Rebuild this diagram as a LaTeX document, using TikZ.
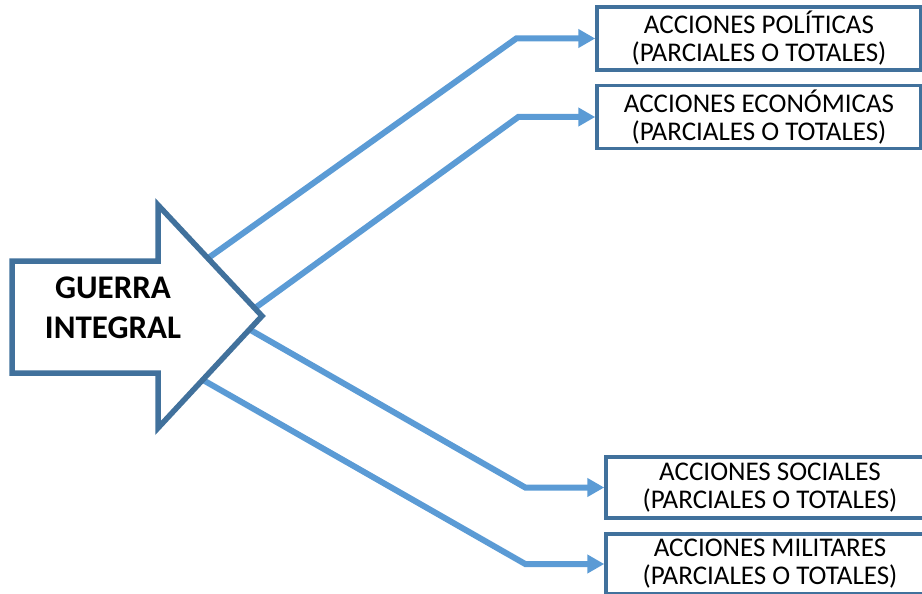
\documentclass[tikz,border=0pt]{standalone}
\usepackage{fontspec}
\setmainfont{Carlito}
\usetikzlibrary{arrows.meta,positioning,calc}
\definecolor{borde}{HTML}{41719C}
\definecolor{flecha}{HTML}{5B9BD5}

\begin{document}
\begin{tikzpicture}[x=1pt,y=-1pt,node distance=78.5pt,
    caja/.style={draw=borde, line width=3.5pt, fill=white, minimum width=324pt, minimum height=63pt, inner sep=0pt, align=center, font=\fontsize{27}{28}\selectfont},
    conn/.style={draw=flecha, line width=6pt, -{Triangle[length=17pt,width=18pt]}}]
    \useasboundingbox (0,0) rectangle (922,594);
    \clip (0,0) rectangle (922,594);
    % flecha grande
    \coordinate (alto) at (158,205);
    \coordinate (punta) at (262,316);
    \coordinate (bajo) at (158,428);
    \coordinate (s1) at ($(alto)!0.48!(punta)$);
    \coordinate (s2) at ($(alto)!0.93!(punta)$);
    \coordinate (s3) at ($(punta)!0.12!(bajo)$);
    \coordinate (s4) at ($(punta)!0.57!(bajo)$);
    % cajas
    \node [caja] (pol) at (759,38.5) {ACCIONES POLÍTICAS\\(PARCIALES O TOTALES)};
    \node [caja, below of=pol] (eco) {ACCIONES ECONÓMICAS\\(PARCIALES O TOTALES)};
    \node [caja, minimum width=328pt, minimum height=61pt] (soc) at (770,487.5) {ACCIONES SOCIALES\\(PARCIALES O TOTALES)};
    \node [caja, minimum width=328pt, minimum height=60pt, below of=soc, node distance=76.5pt] (mil) {ACCIONES MILITARES\\(PARCIALES O TOTALES)};
    % conectores
    \draw[conn] (s1) -- ([xshift=-79pt]pol.west) -- (pol.west);
    \draw[conn] (s2) -- ([xshift=-77pt]eco.west) -- (eco.west);
    \draw[conn] (s3) -- ([xshift=-79pt]soc.west) -- (soc.west);
    \draw[conn] (s4) -- ([xshift=-79pt]mil.west) -- (mil.west);
    \draw[borde, line width=5.5pt, fill=white] (12,261) -- (158,261) -- (alto) -- (punta) -- (bajo) -- (158,373) -- (12,373) -- cycle;
    \node [font=\bfseries\fontsize{33}{40}\selectfont, align=center] (guerra) at (113,308) {GUERRA\\INTEGRAL};
\end{tikzpicture}
\end{document}
